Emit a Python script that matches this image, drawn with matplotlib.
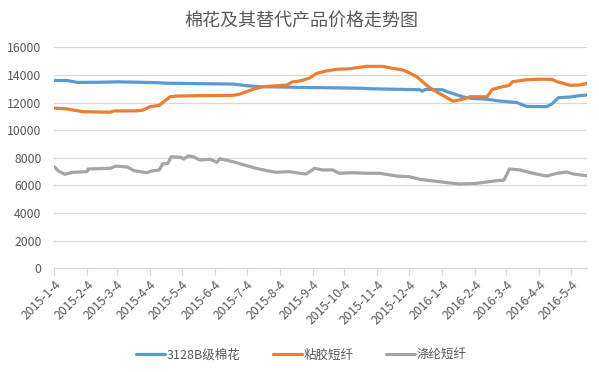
import matplotlib
matplotlib.use("Agg")
import matplotlib.pyplot as plt
import pandas as pd

plt.rcParams['font.family'] = ['Noto Sans CJK SC', 'DejaVu Sans']

# 3128B级棉花
cotton_dates = ['2015-01-04', '2015-01-16', '2015-01-26', '2015-02-16', '2015-03-05', '2015-03-26',
                '2015-04-10', '2015-04-20', '2015-05-21', '2015-06-21', '2015-07-04', '2015-07-16',
                '2015-08-23', '2015-10-18', '2015-10-28', '2015-12-14', '2015-12-16', '2015-12-19',
                '2016-01-04', '2016-01-08', '2016-01-23', '2016-02-01', '2016-02-15', '2016-02-27',
                '2016-03-14', '2016-03-23', '2016-04-11', '2016-04-16', '2016-04-22', '2016-05-03',
                '2016-05-12', '2016-05-19']
cotton = [13600, 13600, 13460, 13470, 13500, 13470,
          13440, 13400, 13370, 13340, 13220, 13150,
          13100, 13040, 13000, 12930, 12820, 12950,
          12930, 12800, 12420, 12300, 12240, 12110,
          12000, 11720, 11700, 11900, 12350, 12400,
          12500, 12550]

# 粘胶短纤
viscose_dates = ['2015-01-04', '2015-01-16', '2015-01-31', '2015-02-26', '2015-03-01', '2015-03-23',
                 '2015-03-29', '2015-04-04', '2015-04-13', '2015-04-23', '2015-04-28', '2015-05-21',
                 '2015-06-21', '2015-06-27', '2015-07-04', '2015-07-10', '2015-07-19', '2015-08-11',
                 '2015-08-16', '2015-08-23', '2015-09-01', '2015-09-08', '2015-09-17', '2015-09-27',
                 '2015-10-09', '2015-10-15', '2015-10-25', '2015-11-09', '2015-11-18', '2015-11-28',
                 '2015-12-04', '2015-12-11', '2015-12-15', '2015-12-20', '2015-12-25', '2016-01-01',
                 '2016-01-08', '2016-01-14', '2016-01-23', '2016-01-30', '2016-02-15', '2016-02-20',
                 '2016-02-27', '2016-03-07', '2016-03-10', '2016-03-23', '2016-04-05', '2016-04-16',
                 '2016-04-21', '2016-05-03', '2016-05-12', '2016-05-19']
viscose = [11600, 11540, 11340, 11300, 11390, 11400,
           11460, 11700, 11800, 12420, 12470, 12500,
           12520, 12600, 12790, 12960, 13150, 13270,
           13500, 13560, 13760, 14120, 14290, 14410,
           14450, 14520, 14620, 14620, 14480, 14360,
           14150, 13870, 13600, 13270, 12980, 12670,
           12370, 12100, 12240, 12420, 12420, 12950,
           13100, 13250, 13510, 13650, 13690, 13680,
           13510, 13250, 13270, 13390]

# 涤纶短纤
polyester_dates = ['2015-01-04', '2015-01-08', '2015-01-14', '2015-01-22', '2015-02-04', '2015-02-05',
                   '2015-02-26', '2015-03-03', '2015-03-14', '2015-03-20', '2015-04-01', '2015-04-06',
                   '2015-04-13', '2015-04-16', '2015-04-21', '2015-04-24', '2015-05-03', '2015-05-06',
                   '2015-05-10', '2015-05-15', '2015-05-21', '2015-05-31', '2015-06-06', '2015-06-09',
                   '2015-06-21', '2015-07-04', '2015-07-13', '2015-07-23', '2015-08-01', '2015-08-13',
                   '2015-08-23', '2015-08-29', '2015-09-06', '2015-09-13', '2015-09-23', '2015-09-29',
                   '2015-10-12', '2015-10-25', '2015-11-06', '2015-11-22', '2015-12-04', '2015-12-14',
                   '2016-01-01', '2016-01-20', '2016-02-05', '2016-02-24', '2016-03-02', '2016-03-07',
                   '2016-03-17', '2016-03-29', '2016-04-11', '2016-04-21', '2016-04-30', '2016-05-06',
                   '2016-05-19']
polyester = [7360, 7050, 6810, 6950, 7000, 7190,
             7240, 7400, 7330, 7070, 6920, 7050,
             7120, 7550, 7600, 8080, 8030, 7910,
             8130, 8080, 7840, 7890, 7670, 7930,
             7720, 7430, 7240, 7070, 6950, 7000,
             6880, 6830, 7240, 7120, 7120, 6880,
             6920, 6880, 6880, 6680, 6630, 6440,
             6270, 6100, 6150, 6340, 6390, 7190,
             7120, 6880, 6680, 6880, 6970, 6830,
             6700]

tick_dates = ['2015-01-04', '2015-02-04', '2015-03-04', '2015-04-04', '2015-05-04', '2015-06-04',
              '2015-07-04', '2015-08-04', '2015-09-04', '2015-10-04', '2015-11-04', '2015-12-04',
              '2016-01-04', '2016-02-04', '2016-03-04', '2016-04-04', '2016-05-04']
tick_labels = ['2015-1-4', '2015-2-4', '2015-3-4', '2015-4-4', '2015-5-4', '2015-6-4',
               '2015-7-4', '2015-8-4', '2015-9-4', '2015-10-4', '2015-11-4', '2015-12-4',
               '2016-1-4', '2016-2-4', '2016-3-4', '2016-4-4', '2016-5-4']

txt = '#595959'
grid = '#D9D9D9'

fig = plt.figure(figsize=(5.99, 3.72), dpi=100)
ax = fig.add_axes([0.0902, 0.2788, 0.8898, 0.594])

ax.plot(pd.to_datetime(cotton_dates), cotton, color='#5B9BD5', lw=2.3, label='3128B级棉花',
        solid_capstyle='round')
ax.plot(pd.to_datetime(viscose_dates), viscose, color='#ED7D31', lw=2.3, label='粘胶短纤',
        solid_capstyle='round')
ax.plot(pd.to_datetime(polyester_dates), polyester, color='#A5A5A5', lw=2.3, label='涤纶短纤',
        solid_capstyle='round')

ax.set_xlim(pd.Timestamp('2015-01-04'), pd.Timestamp('2016-05-19'))
ax.set_ylim(0, 16000)
ax.set_yticks(range(0, 16001, 2000))
ax.set_xticks(pd.to_datetime(tick_dates))
ax.set_xticklabels(tick_labels, rotation=45, ha='right', rotation_mode='anchor')

ax.grid(axis='y', color=grid, lw=0.9)
ax.set_axisbelow(True)
for s in ['top', 'right', 'left']:
    ax.spines[s].set_visible(False)
ax.spines['bottom'].set_color(grid)
ax.spines['bottom'].set_linewidth(0.9)
ax.tick_params(axis='y', length=0, pad=9, labelsize=8.8, labelcolor=txt)
ax.tick_params(axis='x', length=5, color=grid, width=0.9, pad=2, labelsize=8.8, labelcolor=txt)

fig.text(0.503, 0.943, '棉花及其替代产品价格走势图', ha='center', va='center', fontsize=13, color=txt)

leg = fig.legend(loc='center', bbox_to_anchor=(0.503, 0.046), ncol=3, frameon=False,
                 fontsize=9, handlelength=2.3, handletextpad=0.15, columnspacing=2.6)
for t in leg.get_texts():
    t.set_color(txt)

fig.savefig('out.png', dpi=100)
